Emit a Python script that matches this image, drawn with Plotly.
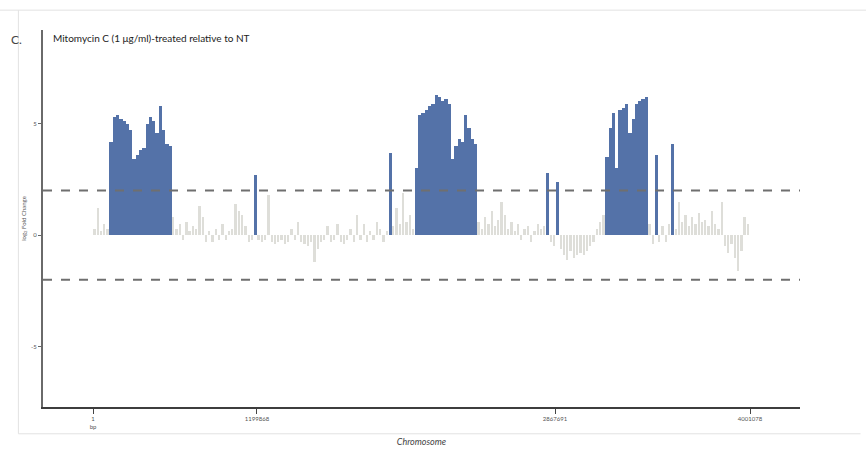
import plotly.graph_objects as go

# ---- data ----
BIN_SIZE = 20000  # bp per bin
seg_a = [0.3, 1.2, 0.2, 0.5, 0.3]                                   # bins 0-4
block1 = [4.2, 5.3, 5.4, 5.2, 5.1, 5.0, 4.7, 3.4, 3.6, 3.8, 3.9, 5.0,
          5.3, 5.1, 4.6, 5.8, 4.7, 4.1, 4.0]                            # bins 5-23
seg_b = [0.8, 0.3, 0.5, -0.2, 0.6, 0.2, 0.4, 0.3, 1.3, 0.8, -0.3, 0.2,
         -0.3, 0.3, -0.2, 0.5, -0.2, 0.2, 0.3, 1.4, 1.1, 0.9, 0.4, -0.3,
         -0.2]                                                          # bins 24-48
seg_c = [2.7]                                                           # bin 49
seg_d = [-0.2, -0.3, -0.2, 1.8, -0.3, -0.4, -0.3, -0.2, -0.4, -0.3, 0.3,
         -0.2, 0.6, -0.3, -0.4, -0.5, -0.3, -1.2, -0.6, -0.3, -0.2, 0.4,
         -0.3, -0.2, 0.5, -0.3, -0.4, -0.2, 0.3, -0.3, 0.9, -0.2, 0.5,
         -0.3, 0.2, -0.2, 0.6, 0.3, -0.3, 0.2]                          # bins 50-89
seg_e = [3.7]                                                           # bin 90
seg_f = [0.4, 1.2, 0.5, 1.9, 0.6, 0.9, 0.3]                             # bins 91-97
block2 = [3.0, 5.4, 5.5, 5.6, 5.8, 5.9, 6.3, 6.2, 6.0, 6.1, 5.9, 3.4,
          4.0, 4.3, 4.2, 5.4, 4.8, 4.3, 4.1]                            # bins 98-116
seg_g = [0.6, 0.3, 0.8, 0.5, 1.1, 0.4, 0.7, 1.5, 0.9, 0.3, 0.6, 0.2,
         0.5, -0.2, 0.3, 0.4, -0.3, 0.2, 0.5, 0.3, 0.4]                 # bins 117-137
seg_h = [2.8, -0.3, -0.5, 2.4]                                          # bins 138-141
seg_i = [-0.6, -0.9, -1.1, -0.7, -1.0, -0.9, -0.8, -0.9, -0.7, -0.5,
         -0.3, 0.3, 0.6, 0.9]                                           # bins 142-155
block3 = [3.5, 4.8, 5.5, 3.0, 5.6, 5.7, 5.9, 4.6, 5.2, 5.9, 6.0, 6.1,
          6.2]                                                          # bins 156-168
seg_j = [0.5, -0.4, 3.6, -0.3, 0.4, -0.3, 0.5, 4.1, 0.3, 1.5, 0.6, 0.9,
         0.4, 0.8, 0.5, 1.0, 0.6, 0.7, 0.4, 1.1, 0.5, 0.3, 1.5, -0.5,
         -0.8, -0.4, -1.0, -1.6, -0.7, 0.8, 0.5]                        # bins 169-199

log2fc = (seg_a + block1 + seg_b + seg_c + seg_d + seg_e + seg_f + block2
          + seg_g + seg_h + seg_i + block3 + seg_j)
positions = [(i + 0.5) * BIN_SIZE for i in range(len(log2fc))]

THRESHOLD = 2.0
x_tick_vals = [1, 998700, 2813600, 4001078]
x_tick_text = ["1<br>bp", "1199868", "2867691", "4001078"]
y_tick_vals = [5, 0, -5]
y_tick_text = ["5", "0", "-5"]

# ---- figure ----
BLUE = "#5472a8"
GRAY = "#deded9"

sig = [v > THRESHOLD for v in log2fc]
colors = [BLUE if s else GRAY for s in sig]
widths = [BIN_SIZE if s else BIN_SIZE * 0.55 for s in sig]

fig = go.Figure()
fig.add_trace(go.Bar(
    x=positions, y=log2fc, width=widths,
    marker=dict(color=colors, line=dict(width=0)),
    showlegend=False,
))

for t in (THRESHOLD, -THRESHOLD):
    fig.add_shape(type="line", xref="paper", yref="y", x0=0, x1=1, y0=t, y1=t,
                  line=dict(color="#6f6f6f", width=2, dash="dash"))

# panel frame (light)
frame = dict(color="#e2e2e2", width=1)
fig.add_shape(type="line", xref="paper", yref="paper", x0=-0.29, x1=1.12,
              y0=1.0 + 20 / 380, y1=1.0 + 20 / 380, line=frame)
fig.add_shape(type="line", xref="paper", yref="paper", x0=-0.0325, x1=-0.0325,
              y0=-27 / 380, y1=1.0 + 20 / 380, line=frame)
fig.add_shape(type="line", xref="paper", yref="paper", x0=-0.0325, x1=1.08,
              y0=-27 / 380, y1=-27 / 380, line=frame)

fig.add_annotation(text="C.", xref="paper", yref="paper", x=-0.045, y=1.0 - 10 / 380,
                   xanchor="left", yanchor="middle", showarrow=False,
                   font=dict(size=12, color="#444"))
fig.add_annotation(text="Mitomycin C (1 μg/ml)-treated relative to NT",
                   xref="paper", yref="paper", x=0.010, y=1.0 - 8 / 380,
                   xanchor="left", yanchor="middle", showarrow=False,
                   font=dict(size=10, color="#222"))

fig.update_layout(
    width=866, height=458,
    margin=dict(l=43, r=66, t=30, b=48),
    paper_bgcolor="white", plot_bgcolor="white",
    bargap=0,
    font=dict(family="Lato, Open Sans, sans-serif", color="#444"),
    xaxis=dict(
        range=[-304500, 4305600],
        tickmode="array", tickvals=x_tick_vals, ticktext=x_tick_text,
        ticks="outside", ticklen=5, tickcolor="#444", tickwidth=1,
        tickfont=dict(size=6, color="#555"),
        showline=True, linecolor="#3d3d3d", linewidth=2,
        showgrid=False, zeroline=False,
        title=dict(text="<i>Chromosome</i>", font=dict(size=9, color="#444"),
                   standoff=10),
    ),
    yaxis=dict(
        range=[-7.7, 9.2],
        tickmode="array", tickvals=y_tick_vals, ticktext=y_tick_text,
        ticks="outside", ticklen=3, tickcolor="#666",
        tickfont=dict(size=6, color="#555"),
        showline=True, linecolor="#6a6a6a", linewidth=2,
        showgrid=False, zeroline=False,
        title=dict(text="log<sub>2</sub> Fold Change", font=dict(size=6, color="#555"),
                   standoff=4),
    ),
)

fig.write_html("out.html")
